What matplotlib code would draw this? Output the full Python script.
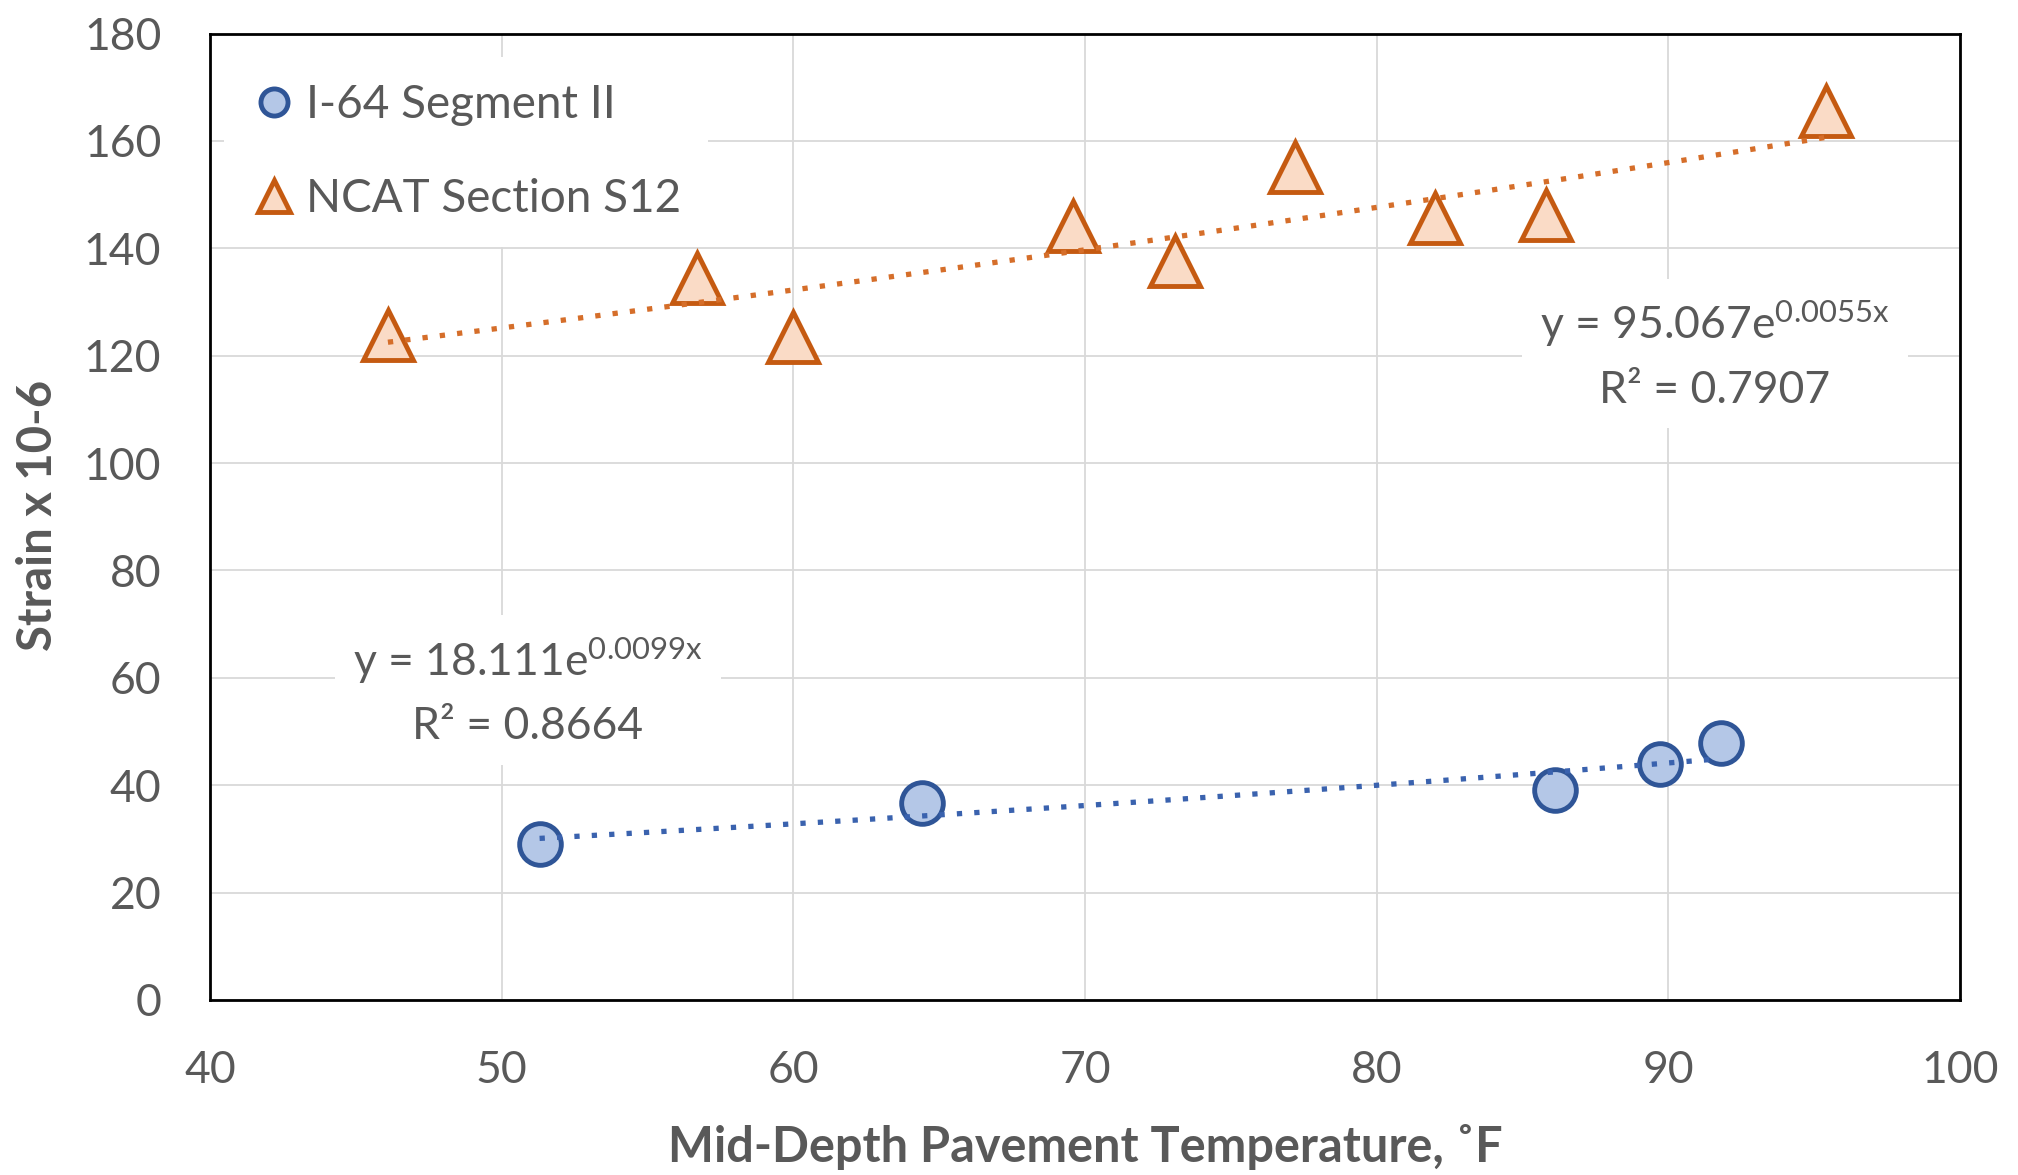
import numpy as np
import matplotlib
matplotlib.use("Agg")
import matplotlib.pyplot as plt

plt.rcParams['font.family'] = ['Lato', 'DejaVu Sans']
plt.rcParams['mathtext.fontset'] = 'custom'
plt.rcParams['mathtext.rm'] = 'Lato'
plt.rcParams['mathtext.it'] = 'Lato'
plt.rcParams['mathtext.bf'] = 'Lato:bold'

# ---- data ----
i64_temp = [51.3, 64.4, 86.1, 89.7, 91.8]
i64_strain = [29.0, 36.7, 39.1, 43.9, 47.9]
ncat_temp = [46.1, 56.7, 60.0, 69.6, 73.1, 77.2, 82.0, 85.8, 95.4]
ncat_strain = [123.9, 134.5, 123.4, 144.1, 137.6, 155.1, 145.7, 146.2, 165.6]
i64_label = "I-64 Segment II"
ncat_label = "NCAT Section S12"
i64_coef_a, i64_coef_b, i64_r2 = 18.111, 0.0099, 0.8664
ncat_coef_a, ncat_coef_b, ncat_r2 = 95.067, 0.0055, 0.7907
x_ticks = [40, 50, 60, 70, 80, 90, 100]
y_ticks = [0, 20, 40, 60, 80, 100, 120, 140, 160, 180]
x_title = "Mid-Depth Pavement Temperature, \u02daF"
y_title = "Strain x 10-6"

W, H = 2018, 1175
fig = plt.figure(figsize=(W / 100, H / 100), dpi=100)
L, R, T, B = 210, 1960, 33.5, 1000
ax = fig.add_axes([L / W, 1 - B / H, (R - L) / W, (B - T) / H])

tick_color = '#595959'
blue_edge, blue_fill, blue_line = '#2F5597', '#B4C7E7', '#3A62AE'
or_edge, or_fill, or_line = '#C55A11', '#FADBC6', '#D56E2A'

ax.plot(i64_temp, i64_strain, linestyle='none', marker='o', markersize=30,
        markerfacecolor=blue_fill, markeredgecolor=blue_edge, markeredgewidth=3.5,
        label=i64_label, zorder=3)
ax.plot(ncat_temp, ncat_strain, linestyle='none', marker='^', markersize=36,
        markerfacecolor=or_fill, markeredgecolor=or_edge, markeredgewidth=3.5,
        label=ncat_label, zorder=3)

dot_style = (0, (1.0, 2.3))
xb = np.linspace(min(i64_temp), max(i64_temp), 200)
ax.plot(xb, i64_coef_a * np.exp(i64_coef_b * xb), color=blue_line, lw=3.8,
        linestyle=dot_style, dash_capstyle='butt', zorder=4)
xo = np.linspace(min(ncat_temp), max(ncat_temp), 200)
ax.plot(xo, ncat_coef_a * np.exp(ncat_coef_b * xo), color=or_line, lw=3.8,
        linestyle=dot_style, dash_capstyle='butt', zorder=4)

ax.set_xlim(40, 100)
ax.set_ylim(0, 180)
ax.set_xticks(x_ticks)
ax.set_yticks(y_ticks)
ax.grid(True, color='#D9D9D9', linewidth=1.3, zorder=0)
ax.set_axisbelow(True)
ax.tick_params(axis='both', length=0, labelsize=32, labelcolor=tick_color)
ax.tick_params(axis='y', pad=35)
ax.tick_params(axis='x', pad=36)
for s in ax.spines.values():
    s.set_color('black')
    s.set_linewidth(2.0)

eq_kw = dict(fontsize=32, color=tick_color, ha='center', va='center',
             linespacing=1.62, zorder=5,
             bbox=dict(boxstyle='square,pad=0.4', facecolor='white', edgecolor='none'))
ax.text(91.6, 120.2,
        "y = %.3fe$^{\\mathregular{%.4fx}}$\nR\u00b2 = %.4f" % (ncat_coef_a, ncat_coef_b, ncat_r2),
        **eq_kw)
ax.text(50.9, 57.5,
        "y = %.3fe$^{\\mathregular{%.4fx}}$\nR\u00b2 = %.4f" % (i64_coef_a, i64_coef_b, i64_r2),
        **eq_kw)

leg = ax.legend(loc='upper left', bbox_to_anchor=(0.008, 0.976), fontsize=33,
                frameon=True, facecolor='white', edgecolor='none', framealpha=1,
                fancybox=False, markerscale=0.65, handlelength=1.0,
                handletextpad=0.18, borderpad=0.6, labelspacing=1.13,
                borderaxespad=0)
for t in leg.get_texts():
    t.set_color(tick_color)
leg.set_zorder(6)

fig.text(1085 / W, 1 - 1147 / H, x_title, fontsize=35, fontweight='bold',
         color=tick_color, ha='center', va='center')
fig.text(38 / W, 1 - 515 / H, y_title, fontsize=34, fontweight='bold',
         color=tick_color, ha='center', va='center', rotation=90)

fig.savefig('out.png', dpi=100, facecolor='white')
